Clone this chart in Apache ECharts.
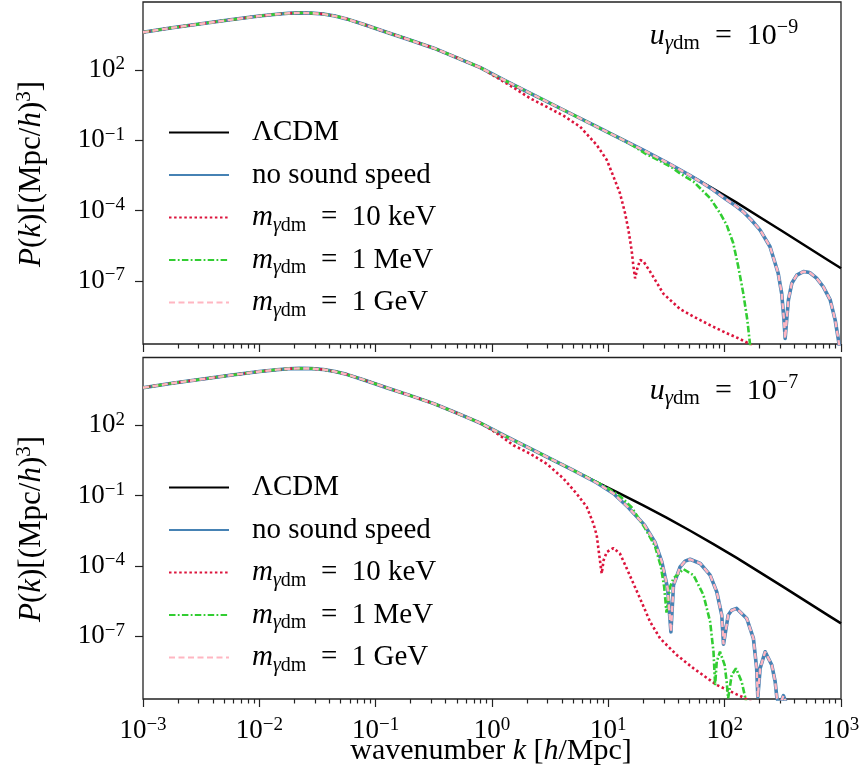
<!DOCTYPE html>
<html><head><meta charset="utf-8">
<script src="https://cdn.jsdelivr.net/npm/echarts@6/dist/echarts.min.js"></script>
<style>html,body{margin:0;padding:0;background:#fff}#c{width:865px;height:773px}</style>
</head><body><div id="c"></div>
<script>
const FONT = 'Liberation Serif';

// ---- data: log10 k [h/Mpc] and log10 P(k) [(Mpc/h)^3] ----
const lcdmLogK = [-3.0,-2.75,-2.5,-2.25,-2.0,-1.85,-1.75,-1.65,-1.55,-1.45,-1.35,-1.25,-1.1,-0.9,-0.7,-0.5,-0.3,-0.1,0.1,0.3,0.5,0.7,0.9,1.1,1.3,1.5,1.7,1.9,2.1,2.3,2.5,2.7,2.9,3.0];
const lcdmLogP = [3.61,3.80,3.97,4.14,4.30,4.38,4.42,4.435,4.425,4.385,4.30,4.18,3.94,3.60,3.27,2.93,2.52,2.10,1.58,1.08,0.58,0.08,-0.42,-0.92,-1.42,-1.94,-2.49,-3.06,-3.65,-4.27,-4.89,-5.52,-6.15,-6.46];

// top panel: u = 1e-9 (tails after departure from LCDM)
const top_noSoundLogK = [1.8,1.9,2.0,2.1,2.16,2.23,2.305,2.39,2.46,2.49,2.51,2.52,2.535,2.548,2.577,2.62,2.677,2.73,2.79,2.848,2.907,2.95,2.978,3.0];
const top_noSoundLogP = [-2.79,-3.11,-3.47,-3.82,-4.05,-4.40,-4.83,-5.54,-6.67,-7.53,-8.67,-9.45,-8.55,-7.81,-7.10,-6.75,-6.60,-6.64,-6.88,-7.25,-7.81,-8.67,-9.52,-10.3];
const top_keVLogK = [0.0,0.184,0.328,0.47,0.614,0.757,0.90,0.987,1.044,1.10,1.144,1.173,1.20,1.216,1.23,1.25,1.273,1.30,1.359,1.474,1.617,1.732,1.88,2.017,2.12,2.2,2.26];
const top_keVLogP = [1.80,1.25,0.79,0.43,0.05,-0.42,-1.20,-1.84,-2.55,-3.26,-4.11,-4.83,-5.68,-6.39,-6.89,-6.45,-6.11,-6.15,-6.60,-7.55,-8.20,-8.52,-8.90,-9.23,-9.45,-9.65,-9.85];
const top_MeVLogK = [1.2,1.33,1.445,1.55,1.617,1.732,1.875,1.961,2.017,2.074,2.117,2.16,2.195,2.217,2.235];
const top_MeVLogP = [-1.20,-1.60,-1.88,-2.17,-2.42,-2.76,-3.47,-4.11,-4.61,-5.39,-6.39,-7.53,-8.67,-9.66,-10.3];
const top_GeVLogK = [1.8,1.9,2.0,2.1,2.16,2.23,2.305,2.39,2.46,2.49,2.51,2.52,2.535,2.548,2.577,2.62,2.677,2.73,2.79,2.848,2.907,2.95,2.978,3.0];
const top_GeVLogP = [-2.79,-3.11,-3.47,-3.82,-4.05,-4.40,-4.83,-5.54,-6.67,-7.53,-8.67,-9.45,-8.55,-7.81,-7.10,-6.75,-6.60,-6.64,-6.88,-7.25,-7.81,-8.67,-9.52,-10.3];

// bottom panel: u = 1e-7
const bot_noSoundLogK = [0.9,1.044,1.17,1.31,1.40,1.46,1.51,1.538,1.56,1.617,1.66,1.703,1.79,1.875,1.932,1.975,1.99,2.03,2.06,2.103,2.19,2.247,2.275,2.285,2.305,2.348,2.405,2.434,2.448,2.47,2.505,2.54];
const bot_noSoundLogP = [-0.45,-0.91,-1.50,-2.25,-2.98,-3.83,-4.97,-6.82,-4.83,-4.05,-3.80,-3.72,-3.90,-4.40,-5.11,-6.11,-7.35,-6.11,-5.90,-5.82,-6.25,-7.10,-8.38,-9.60,-8.38,-7.67,-8.24,-8.95,-9.60,-10.0,-9.55,-10.0];
const bot_keVLogK = [0.0,0.13,0.184,0.328,0.47,0.614,0.728,0.814,0.871,0.90,0.922,0.943,0.96,0.987,1.044,1.10,1.159,1.273,1.359,1.445,1.588,1.732,1.932,2.175,2.26];
const bot_keVLogP = [1.80,1.35,1.15,0.79,0.36,-0.27,-0.92,-1.48,-2.19,-2.69,-3.55,-4.33,-3.75,-3.41,-3.24,-3.48,-4.12,-5.40,-6.39,-7.10,-7.81,-8.38,-9.09,-9.66,-9.90];
const bot_MeVLogK = [1.0,1.1,1.2,1.31,1.40,1.45,1.48,1.50,1.53,1.56,1.645,1.732,1.818,1.875,1.904,1.918,1.932,1.96,2.0,2.017,2.03,2.06,2.097,2.146,2.18,2.2];
const bot_MeVLogP = [-0.70,-1.02,-1.50,-2.35,-3.15,-4.00,-4.90,-6.00,-4.90,-4.54,-4.14,-4.40,-5.25,-6.39,-7.67,-9.10,-8.09,-7.67,-8.24,-8.95,-9.66,-8.67,-8.38,-8.95,-9.70,-10.2];
const bot_GeVLogK = [0.9,1.044,1.17,1.31,1.40,1.46,1.51,1.538,1.56,1.617,1.66,1.703,1.79,1.875,1.932,1.975,1.99,2.03,2.06,2.103,2.19,2.247,2.275,2.285,2.305,2.348,2.405,2.434,2.448,2.47,2.505,2.54];
const bot_GeVLogP = [-0.45,-0.91,-1.50,-2.25,-2.98,-3.83,-4.97,-6.82,-4.83,-4.05,-3.80,-3.72,-3.90,-4.40,-5.11,-6.11,-7.35,-6.11,-5.90,-5.82,-6.25,-7.10,-8.38,-9.60,-8.38,-7.67,-8.24,-8.95,-9.60,-10.0,-9.55,-10.0];

// ticks / labels
const xTickExp = [-3,-2,-1,0,1,2,3];
const yTickExp = [-7,-4,-1,2];
const panelExp = ['−9','−7'];
const seriesNames = ['ΛCDM','no sound speed','m10keV','m1MeV','m1GeV'];
const legendTexts = {
  'ΛCDM':'{t|ΛCDM}{sub|\u200b}',
  'no sound speed':'{t|no sound speed}{sub|\u200b}',
  'm10keV':'{i|m}{subi|γ}{sub|dm}{t|\u2002=\u200210 keV}',
  'm1MeV':'{i|m}{subi|γ}{sub|dm}{t|\u2002=\u20021 MeV}',
  'm1GeV':'{i|m}{subi|γ}{sub|dm}{t|\u2002=\u20021 GeV}'
};

// ---- helpers ----
const pts = (K, P) => K.map((k, i) => [k, P[i]]);
const withLow = (K, P) => pts(lcdmLogK, lcdmLogP).filter(p => p[0] < K[0]).concat(pts(K, P));
const expStr = v => (v < 0 ? '−' + Math.abs(v) : String(v));
const expFmt = v => '{b|10}{s|' + expStr(Math.round(v)) + '}';

const minorVals = [];
for (let d = -3; d < 3; d++) for (let m = 2; m <= 9; m++) minorVals.push(d + Math.log10(m));

const tickLine = { color: '#222', width: 1.2 };
const richTick = {
  b: { fontFamily: FONT, fontSize: 27, lineHeight: 30, color: '#000' },
  s: { fontFamily: FONT, fontSize: 19, lineHeight: 19, verticalAlign: 'top', color: '#000' }
};
const richLegend = {
  t: { fontFamily: FONT, fontSize: 29, lineHeight: 36, color: '#000' },
  i: { fontFamily: FONT, fontSize: 29, lineHeight: 36, fontStyle: 'italic', color: '#000' },
  sub: { fontFamily: FONT, fontSize: 20, lineHeight: 20, verticalAlign: 'bottom', color: '#000' },
  subi: { fontFamily: FONT, fontSize: 20, lineHeight: 20, verticalAlign: 'bottom', fontStyle: 'italic', color: '#000' }
};
const richG = {
  t: { fontFamily: FONT, fontSize: 30, lineHeight: 36, fill: '#000' },
  i: { fontFamily: FONT, fontSize: 30, lineHeight: 36, fontStyle: 'italic', fill: '#000' },
  sup: { fontFamily: FONT, fontSize: 20, lineHeight: 20, verticalAlign: 'top', fill: '#000' },
  sub: { fontFamily: FONT, fontSize: 21, lineHeight: 21, verticalAlign: 'bottom', fill: '#000' },
  subi: { fontFamily: FONT, fontSize: 21, lineHeight: 21, verticalAlign: 'bottom', fontStyle: 'italic', fill: '#000' }
};
const richY = {
  t: { fontFamily: FONT, fontSize: 31, lineHeight: 37, fill: '#000' },
  i: { fontFamily: FONT, fontSize: 31, lineHeight: 37, fontStyle: 'italic', fill: '#000' },
  sup: { fontFamily: FONT, fontSize: 21, lineHeight: 21, verticalAlign: 'top', fill: '#000' }
};

const styles = {
  'ΛCDM': { color: '#000000', width: 2.5, type: 'solid', join: 'round' },
  'no sound speed': { color: '#4682B4', width: 3.6, type: 'solid', join: 'round' },
  'm10keV': { color: '#DC143C', width: 2.6, type: [2.5, 2.6] },
  'm1MeV': { color: '#32CD32', width: 2.6, type: [6.5, 2.3, 1.8, 2.3] },
  'm1GeV': { color: '#FFB6C1', width: 2.4, type: [6, 3.5] }
};

function xMajor(g, show) {
  return { type: 'value', gridIndex: g, min: -3, max: 3, interval: 1, position: 'bottom',
    axisLine: { show: false, onZero: false }, splitLine: { show: false },
    axisTick: { show: true, length: 8, lineStyle: tickLine },
    axisLabel: { show: show, margin: 17, formatter: expFmt, rich: richTick, fontFamily: FONT, color: '#000' } };
}
function xMinor(g) {
  return { type: 'value', gridIndex: g, min: -3, max: 3, position: 'bottom',
    axisLine: { show: false, onZero: false }, splitLine: { show: false },
    axisLabel: { show: false },
    axisTick: { show: true, length: 4.5, customValues: minorVals, lineStyle: tickLine } };
}
function yAx(g) {
  return { type: 'value', gridIndex: g, min: -9.69, max: 4.9, position: 'left',
    axisLine: { show: false, onZero: false }, splitLine: { show: false },
    axisTick: { show: true, length: 8, customValues: yTickExp, lineStyle: tickLine },
    axisLabel: { customValues: yTickExp, margin: 18, formatter: expFmt, rich: richTick, fontFamily: FONT, color: '#000' } };
}

const panels = [
  { x: 0, y: 0, data: { 'ΛCDM': pts(lcdmLogK, lcdmLogP), 'no sound speed': withLow(top_noSoundLogK, top_noSoundLogP),
      'm10keV': withLow(top_keVLogK, top_keVLogP), 'm1MeV': withLow(top_MeVLogK, top_MeVLogP), 'm1GeV': withLow(top_GeVLogK, top_GeVLogP) } },
  { x: 2, y: 1, data: { 'ΛCDM': pts(lcdmLogK, lcdmLogP), 'no sound speed': withLow(bot_noSoundLogK, bot_noSoundLogP),
      'm10keV': withLow(bot_keVLogK, bot_keVLogP), 'm1MeV': withLow(bot_MeVLogK, bot_MeVLogP), 'm1GeV': withLow(bot_GeVLogK, bot_GeVLogP) } }
];
const series = [];
panels.forEach(p => {
  seriesNames.forEach((n, i) => {
    series.push({ name: n, type: 'line', xAxisIndex: p.x, yAxisIndex: p.y, data: p.data[n],
      symbol: 'none', showSymbol: false, clip: true, z: 2 + i,
      color: styles[n].color, itemStyle: { color: styles[n].color, opacity: 0 },
      lineStyle: Object.assign({}, styles[n]), emphasis: { disabled: true } });
  });
});

function legendAt(top) {
  return { top: top, left: 168, orient: 'vertical', padding: 0, itemGap: 10, itemWidth: 60, itemHeight: 14,
    selectedMode: false, data: seriesNames,
    itemStyle: { opacity: 0 },
    formatter: n => legendTexts[n],
    textStyle: { fontFamily: FONT, fontSize: 29, color: '#000', padding: [0, 0, 0, 18], rich: richLegend } };
}

const yLabel = '{i|P}{t|(}{i|k}{t|)[(Mpc/}{i|h}{t|)}{sup|3}{t|]}';
const graphics = [
  { type: 'text', x: 32, y: 174, rotation: Math.PI / 2, style: { text: yLabel, rich: richY, align: 'center', verticalAlign: 'middle' } },
  { type: 'text', x: 32, y: 529, rotation: Math.PI / 2, style: { text: yLabel, rich: richY, align: 'center', verticalAlign: 'middle' } },
  { type: 'text', x: 724, y: 36, style: { text: '{i|u}{subi|γ}{sub|dm}{t|\u2002=\u200210}{sup|' + panelExp[0] + '}', rich: richG, align: 'center', verticalAlign: 'middle' } },
  { type: 'text', x: 724, y: 391, style: { text: '{i|u}{subi|γ}{sub|dm}{t|\u2002=\u200210}{sup|' + panelExp[1] + '}', rich: richG, align: 'center', verticalAlign: 'middle' } },
  { type: 'text', x: 491, y: 751, style: { text: '{t|wavenumber }{i|k}{t| [}{i|h}{t|/Mpc]}', rich: richG, align: 'center', verticalAlign: 'middle' } }
];

const chart = echarts.init(document.getElementById('c'), null, { renderer: 'canvas' });
chart.setOption({
  animation: false,
  backgroundColor: '#fff',
  grid: [
    { left: 143, top: 2, width: 698, height: 342, show: true, borderColor: '#222', borderWidth: 1.3, backgroundColor: 'transparent', containLabel: false },
    { left: 143, top: 357.5, width: 698, height: 341.5, show: true, borderColor: '#222', borderWidth: 1.3, backgroundColor: 'transparent', containLabel: false }
  ],
  xAxis: [xMajor(0, false), xMinor(0), xMajor(1, true), xMinor(1)],
  yAxis: [yAx(0), yAx(1)],
  legend: [legendAt(118), legendAt(473)],
  tooltip: { show: false },
  graphic: graphics,
  series: series
});
</script></body></html>
